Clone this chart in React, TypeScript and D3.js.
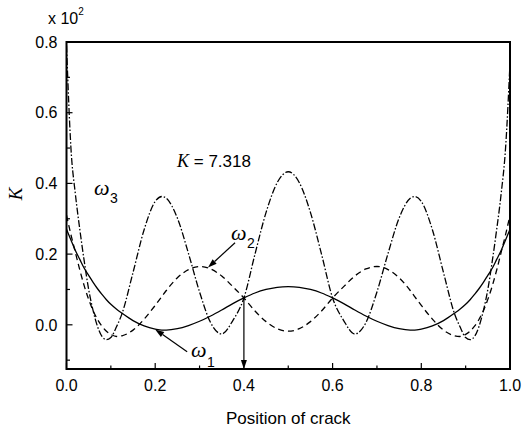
import * as d3 from 'd3';

// crack position (normalised) shared by the three curves
const positions = [
  0, 0.01, 0.02, 0.03, 0.04, 0.05, 0.06, 0.07, 0.08, 0.09, 0.1, 0.113, 0.125, 0.15, 0.175, 0.2,
  0.215, 0.225, 0.25, 0.275, 0.3, 0.325, 0.35, 0.375, 0.4, 0.425, 0.45, 0.475, 0.5,
  0.525, 0.55, 0.575, 0.6, 0.625, 0.65, 0.675, 0.7, 0.725, 0.75, 0.775, 0.785, 0.8, 0.825,
  0.85, 0.875, 0.887, 0.9, 0.91, 0.92, 0.93, 0.94, 0.95, 0.96, 0.97, 0.98, 0.99, 1.0,
];

const omega1 = [
  0.27, 0.24, 0.21, 0.185, 0.16, 0.14, 0.12, 0.102, 0.086, 0.071, 0.058, 0.044, 0.033, 0.012,
  -0.003, -0.012, -0.015, -0.015, -0.011, -0.002, 0.01, 0.025, 0.042, 0.06, 0.076, 0.09, 0.1,
  0.106, 0.108,
  0.106, 0.1, 0.09, 0.076, 0.06, 0.042, 0.025, 0.01, -0.002, -0.011, -0.015, -0.015, -0.012,
  -0.003, 0.012, 0.033, 0.044, 0.058, 0.071, 0.086, 0.102, 0.12, 0.14, 0.16, 0.185, 0.21, 0.24,
  0.27,
];

const omega2 = [
  0.31, 0.255, 0.205, 0.155, 0.11, 0.072, 0.04, 0.015, -0.004, -0.018, -0.027, -0.033, -0.031,
  -0.015, 0.016, 0.055, 0.08, 0.097, 0.133, 0.156, 0.165, 0.158, 0.138, 0.108, 0.076, 0.039,
  0.009, -0.011, -0.018,
  -0.011, 0.009, 0.039, 0.076, 0.108, 0.138, 0.158, 0.165, 0.156, 0.133, 0.097, 0.08, 0.055,
  0.016, -0.015, -0.031, -0.033, -0.027, -0.018, -0.004, 0.015, 0.04, 0.072, 0.11, 0.155, 0.205,
  0.255, 0.31,
];

const omega3 = [
  0.79, 0.5, 0.37, 0.27, 0.18, 0.1, 0.04, -0.005, -0.033, -0.042, -0.036, -0.005, 0.031, 0.148,
  0.269, 0.349, 0.363, 0.358, 0.302, 0.202, 0.093, 0.006, -0.026, 0.012, 0.076, 0.2, 0.318,
  0.402, 0.433,
  0.402, 0.318, 0.2, 0.076, 0.012, -0.026, 0.006, 0.093, 0.202, 0.302, 0.358, 0.363, 0.349,
  0.269, 0.148, 0.031, -0.005, -0.036, -0.042, -0.033, -0.005, 0.04, 0.1, 0.18, 0.27, 0.37, 0.5,
  0.74,
];

const xTickLabels = ['0.0', '0.2', '0.4', '0.6', '0.8', '1.0'];
const yTickLabels = ['0.0', '0.2', '0.4', '0.6', '0.8'];

const W = 525;
const H = 429;
const margin = { left: 66.5, right: 15, top: 42, bottom: 60 };

const SANS = '"Liberation Sans", Arial, Helvetica, sans-serif';
const SERIF = '"Liberation Serif", "Times New Roman", serif';

function Arrow({ x1, y1, x2, y2 }) {
  // line with a filled head at (x2, y2)
  const a = Math.atan2(y2 - y1, x2 - x1);
  const len = 9;
  const half = 3;
  const bx = x2 - len * Math.cos(a);
  const by = y2 - len * Math.sin(a);
  const p1 = [bx + half * Math.sin(a), by - half * Math.cos(a)];
  const p2 = [bx - half * Math.sin(a), by + half * Math.cos(a)];
  return (
    <g>
      <line x1={x1} y1={y1} x2={bx} y2={by} stroke="black" strokeWidth={1.2} />
      <polygon points={`${x2},${y2} ${p1.join(',')} ${p2.join(',')}`} fill="black" />
    </g>
  );
}

export default function App() {
  const x = d3.scaleLinear().domain([0, 1]).range([margin.left, W - margin.right]);
  const y = d3.scaleLinear().domain([-0.125, 0.8]).range([H - margin.bottom, margin.top]);

  const series = [
    { values: omega1, dash: null },
    { values: omega2, dash: '6,4' },
    { values: omega3, dash: '7,2,1.5,2' },
  ];

  const line = (vals) =>
    d3
      .line()
      .x((d, i) => x(positions[i]))
      .y((d) => y(d))
      .curve(d3.curveMonotoneX)(vals);

  const xMinor = d3.range(0, 11).map((i) => i / 10);
  const yMinor = d3.range(-1, 9).map((i) => i / 10);

  const x0 = x.range()[0];
  const x1 = x.range()[1];
  const yb = y.range()[0];
  const yt = y.range()[1];

  return (
    <svg
      width={W}
      height={H}
      style={{ position: 'absolute', left: 0, top: 0, background: 'white' }}
    >
      <defs>
        <clipPath id="plot">
          <rect x={x0} y={yt} width={x1 - x0} height={yb - yt} />
        </clipPath>
      </defs>

      {/* curves */}
      <g clipPath="url(#plot)" fill="none" stroke="black">
        {series.map((s, i) => (
          <path key={i} d={line(s.values)} strokeWidth={1.3} strokeDasharray={s.dash} />
        ))}
      </g>

      {/* ticks, inward */}
      {xMinor.map((v, i) => (
        <line
          key={'xt' + i}
          x1={x(v)}
          x2={x(v)}
          y1={yb}
          y2={yb - (i % 2 === 0 ? 6 : 3.5)}
          stroke="black"
          strokeWidth={1.2}
        />
      ))}
      {yMinor.map((v, i) => (
        <line
          key={'yt' + i}
          x1={x0}
          x2={x0 + (i % 2 === 1 ? 6 : 3.5)}
          y1={y(v)}
          y2={y(v)}
          stroke="black"
          strokeWidth={1.2}
        />
      ))}

      {/* frame */}
      <rect x={x0} y={yt} width={x1 - x0} height={yb - yt} fill="none" stroke="black" strokeWidth={2} />

      {/* tick labels */}
      {xTickLabels.map((t) => (
        <text
          key={t}
          x={x(+t)}
          y={yb + 22}
          textAnchor="middle"
          fontFamily={SANS}
          fontSize={16}
        >
          {t}
        </text>
      ))}
      {yTickLabels.map((t) => (
        <text
          key={t}
          x={x0 - 9}
          y={y(+t)}
          dy="0.36em"
          textAnchor="end"
          fontFamily={SANS}
          fontSize={16}
        >
          {t}
        </text>
      ))}

      {/* axis titles */}
      <text x={(x0 + x1) / 2} y={424} textAnchor="middle" fontFamily={SANS} fontSize={17}>
        Position of crack
      </text>
      <text
        transform={`translate(22, ${y(0.37)}) rotate(-90)`}
        textAnchor="middle"
        fontFamily={SERIF}
        fontStyle="italic"
        fontSize={19}
      >
        K
      </text>
      <text x={48} y={24} fontFamily={SANS} fontSize={16}>
        x 10
        <tspan dy={-9} fontSize={10}>
          2
        </tspan>
      </text>

      {/* annotations */}
      <text x={177} y={167} fontFamily={SANS} fontSize={17}>
        <tspan fontFamily={SERIF} fontStyle="italic" fontSize={18}>
          K
        </tspan>
        {' = 7.318'}
      </text>

      <text x={94} y={195} fontFamily={SERIF} fontStyle="italic" fontSize={22}>
        ω
      </text>
      <text x={110} y={203} fontFamily={SANS} fontSize={14}>
        3
      </text>

      <text x={231} y={240} fontFamily={SERIF} fontStyle="italic" fontSize={22}>
        ω
      </text>
      <text x={247} y={248} fontFamily={SANS} fontSize={14}>
        2
      </text>
      <Arrow x1={x(0.38)} y1={y(0.232)} x2={x(0.319)} y2={y(0.162)} />

      <text x={191} y={357} fontFamily={SERIF} fontStyle="italic" fontSize={22}>
        ω
      </text>
      <text x={207} y={367} fontFamily={SANS} fontSize={14}>
        1
      </text>
      <Arrow x1={x(0.272)} y1={y(-0.076)} x2={x(0.2)} y2={y(-0.013)} />

      <Arrow x1={x(0.4)} y1={y(0.076)} x2={x(0.4)} y2={yb} />
    </svg>
  );
}
